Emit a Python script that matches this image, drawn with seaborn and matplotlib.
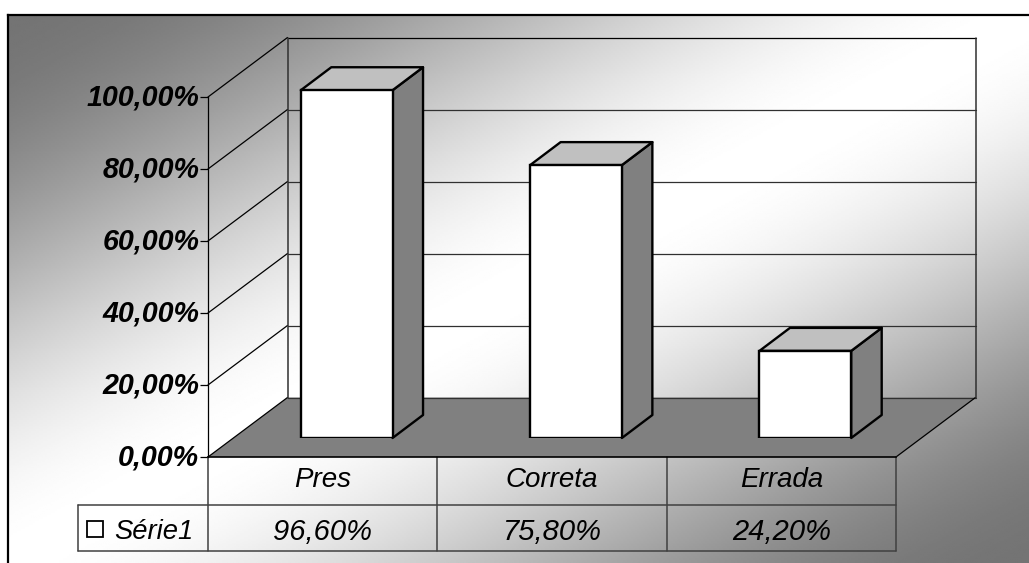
import numpy as np
import pandas as pd
import matplotlib
matplotlib.use("Agg")
import matplotlib.pyplot as plt
from matplotlib.patches import Polygon, Rectangle
import seaborn as sns

categories = ["Pres", "Correta", "Errada"]
values = [96.6, 75.8, 24.2]
series_name = "Série1"
y_ticks = [0, 20, 40, 60, 80, 100]

W, H = 1029, 563
sns.set_theme(style="white")
plt.rcParams["font.family"] = ["Liberation Sans", "DejaVu Sans"]
fig = plt.figure(figsize=(W / 100, H / 100), dpi=100, facecolor="white")


def px_axes(x0, y0, x1, y1, **kw):
    return fig.add_axes([x0 / W, 1 - y1 / H, (x1 - x0) / W, (y1 - y0) / H], **kw)


def pct(v):
    return f"{v:.2f}".replace(".", ",") + "%"


# chart-area background: diagonal grey-white-grey band with soft ends
bg = px_axes(8, 15, W, H, zorder=0)
u, v = np.meshgrid(np.linspace(0, 1, 512), np.linspace(0, 1, 281))
band = 1 - np.abs(u + v - 1)
soft = 3 * band ** 2 - 2 * band ** 3
bg.imshow(116 + 139 * soft, cmap="gray", vmin=0, vmax=255, aspect="auto", interpolation="bilinear")
bg.set_xticks([]); bg.set_yticks([])
for s in ["right", "bottom"]:
    bg.spines[s].set_visible(False)
for s in ["top", "left"]:
    bg.spines[s].set_visible(True)
    bg.spines[s].set_color("black")
    bg.spines[s].set_linewidth(1.6)

# front plane of the chart box
FX0, FX1, FY0, FY1 = 208, 896, 97, 457
ax = px_axes(FX0, FY0, FX1, FY1, zorder=1)
ax.patch.set_visible(False)
ax.set_xlim(-0.5, 2.5)
ax.set_ylim(0, 100)
px_x = 3 / (FX1 - FX0)        # data units per pixel
px_y = 100 / (FY1 - FY0)
wall_dx, wall_dy = 79.5 * px_x, 59.5 * px_y
lw = 0.9

# floor
ax.add_patch(Polygon([(-0.5, 0), (2.5, 0), (2.5 + wall_dx, wall_dy), (-0.5 + wall_dx, wall_dy)],
                     closed=True, fc="#808080", ec="none", clip_on=False, zorder=1))
# back wall grid, side-wall diagonals
for t in y_ticks:
    col = "black" if t == 100 else "#303030"
    ax.plot([-0.5 + wall_dx, 2.5 + wall_dx], [t + wall_dy] * 2, color=col, lw=lw, clip_on=False, zorder=2)
    ax.plot([-0.5, -0.5 + wall_dx], [t, t + wall_dy], color="black", lw=lw, clip_on=False, zorder=2)
ax.plot([2.5, 2.5 + wall_dx], [0, wall_dy], color="black", lw=lw, clip_on=False, zorder=2)
for x in (-0.5 + wall_dx, 2.5 + wall_dx):
    ax.plot([x, x], [wall_dy, 100 + wall_dy], color="#303030", lw=1.1, clip_on=False, zorder=2)

# axes spines and ticks
for s in ["top", "right"]:
    ax.spines[s].set_visible(False)
ax.spines["left"].set_linewidth(lw); ax.spines["left"].set_color("black")
ax.spines["bottom"].set_linewidth(1.2); ax.spines["bottom"].set_color("black")
ax.set_yticks(y_ticks)
ax.set_yticklabels([pct(t) for t in y_ticks], fontsize=20.6, fontstyle="italic", fontweight="bold",
                   color="black", va="center", y=0)
for lab in ax.get_yticklabels():
    lab.set_verticalalignment("center")
ax.tick_params(axis="y", left=True, length=5.8, width=0.9, color="black", pad=0.5)
ax.set_xticks(range(len(categories)))
ax.set_xticklabels(categories, fontsize=20, fontstyle="italic", color="black")
ax.tick_params(axis="x", bottom=False, length=0, pad=7)

# data table
row1 = -(505 - FY1) * px_y
row2 = -(551 - FY1) * px_y
tcol = "#404040"
tlw = 1.1
for x in [0.5, 1.5, 2.5]:
    ax.plot([x, x], [0, row2], color=tcol, lw=tlw, clip_on=False)
ax.plot([-0.5, -0.5], [0, row2], color=tcol, lw=tlw, clip_on=False)
leg_left = -0.5 - (FX0 - 78) * px_x
ax.plot([leg_left, 2.5], [row1, row1], color=tcol, lw=tlw, clip_on=False)
ax.plot([leg_left, 2.5], [row2, row2], color=tcol, lw=tlw, clip_on=False)
ax.plot([leg_left, leg_left], [row1, row2], color=tcol, lw=tlw, clip_on=False)
row_mid = (row1 + row2) / 2 - 1 * px_y
for i, val in enumerate(values):
    ax.text(i, row_mid, pct(val), ha="center", va="center_baseline", fontsize=21,
            fontstyle="italic", color="black", clip_on=False)
ax.text(-0.5 - 15 * px_x, row_mid, series_name, ha="right", va="center_baseline", fontsize=19.7,
        fontstyle="italic", color="black", clip_on=False)
ax.add_patch(Rectangle((-0.5 - 121 * px_x, row_mid - 8 * px_y), 16 * px_x, 16 * px_y, fc="white",
                       ec="black", lw=1.3, clip_on=False))

# bars: same scale, plane set back from the front of the box
BDX, BDY = 24, 19
bar_ax = px_axes(FX0 + BDX, FY0 - BDY, FX1 + BDX, FY1 - BDY, zorder=2)
bar_ax.patch.set_visible(False)
df = pd.DataFrame({"categoria": categories, "valor": values})
sns.barplot(data=df, x="categoria", y="valor", ax=bar_ax, width=0.40, color="white",
            saturation=1, edgecolor="black", linewidth=1.7, zorder=5)
bar_ax.set_xlim(-0.5, 2.5)
bar_ax.set_ylim(0, 100)
bar_ax.axis("off")
ddx, ddy = 30.5 * px_x, 23 * px_y
for b in bar_ax.patches[:len(values)]:
    x0, x1, h = b.get_x(), b.get_x() + b.get_width(), b.get_height()
    bar_ax.add_patch(Polygon([(x1, 0), (x1 + ddx, ddy), (x1 + ddx, h + ddy), (x1, h)], closed=True,
                             fc="#808080", ec="black", lw=1.7, clip_on=False, zorder=4, joinstyle="round"))
    bar_ax.add_patch(Polygon([(x0, h), (x0 + ddx, h + ddy), (x1 + ddx, h + ddy), (x1, h)], closed=True,
                             fc="#c0c0c0", ec="black", lw=1.7, clip_on=False, zorder=4, joinstyle="round"))

fig.savefig("out.png", dpi=100, facecolor="white")
